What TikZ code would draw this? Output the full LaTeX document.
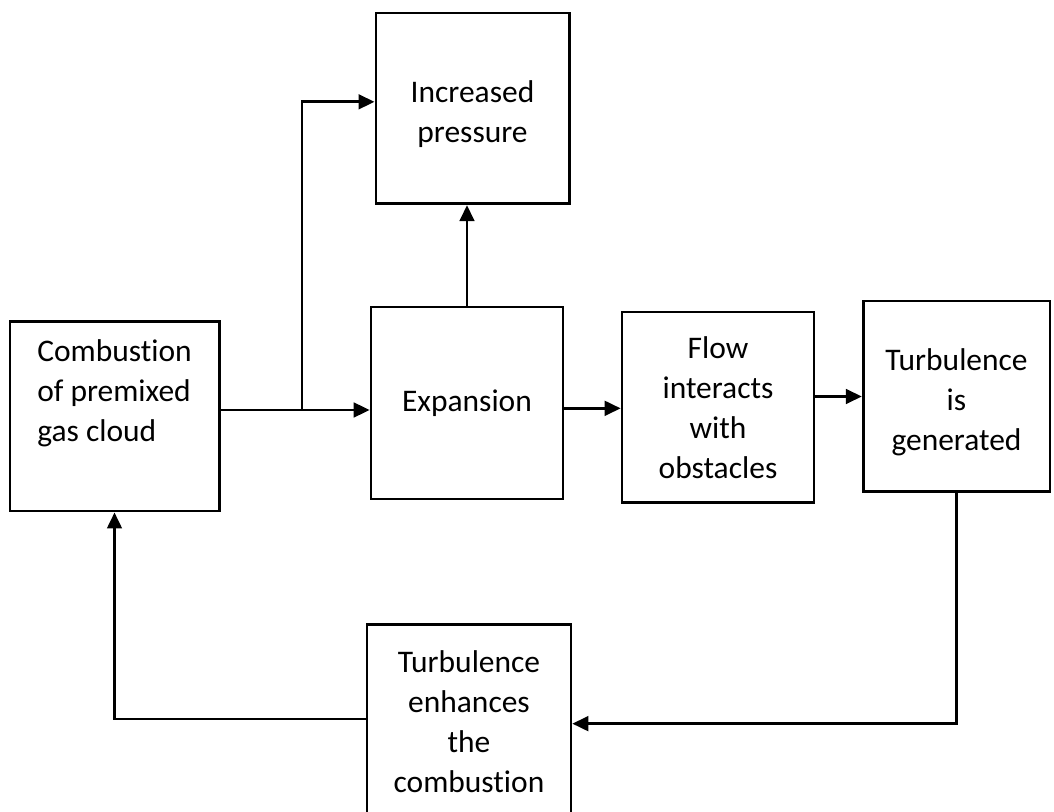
\documentclass[tikz,border=0pt]{standalone}
\usepackage{fontspec}
\setmainfont{Carlito}[Ligatures=NoCommon]
\usetikzlibrary{arrows.meta,calc}
\tikzset{
	block/.style={draw, line width=2pt, align=center, inner sep=0pt},
	arr/.style={line width=2pt, -{Triangle[length=12pt,width=11pt]}},
}

\begin{document}
\begin{tikzpicture}[x=0.75pt, y=-0.75pt, font=\fontsize{23.6}{30}\selectfont]
		%%%%% START %%%%%
		
		\useasboundingbox (0, 0) rectangle (1054, 812);
		
		\node[block, minimum width=157pt, minimum height=142pt, align=left] (comb) at (114.5, 416.5) {Combustion\\of premixed\\gas cloud\\\strut};
		\node[block, minimum width=145pt, minimum height=143pt] (press) at (472.5, 108.5) {\strut\\[-26pt]Increased\\pressure};
		\node[block, minimum width=144pt, minimum height=144pt] (expan) at (467, 403) {Expansion};
		\node[block, minimum width=144pt, minimum height=143pt] (flow) at (718, 407.5) {Flow\\interacts\\with\\obstacles};
		\node[block, minimum width=140pt, minimum height=143pt] (turbgen) at (956.5, 396.5) {\strut\\[-26pt]Turbulence\\is\\generated};
		\node[block, minimum width=153pt, minimum height=146pt, anchor=north] (enhance) at (469, 623) {Turbulence\\enhances\\the\\combustion};
		
		\coordinate (split) at (302, 410);
		\coordinate (expout) at ([yshift=-4pt]expan.east);
		
		\draw[arr] (comb.east |- split) -- (expan.west |- split);
		\draw[arr] (split) |- ([yshift=5pt]press.west);
		\draw[arr] (expan.north) -- (expan.north |- press.south);
		\draw[arr] (expout) -- (flow.west |- expout);
		\draw[arr] (flow.east |- turbgen.west) -- (turbgen.west);
		\draw[arr] (turbgen.south) |- ([yshift=-1.5pt]enhance.east);
		\draw[arr] ([yshift=2pt]enhance.west) -| (comb.south);
		
		%%%%% END %%%%%
	\end{tikzpicture}
\end{document}
